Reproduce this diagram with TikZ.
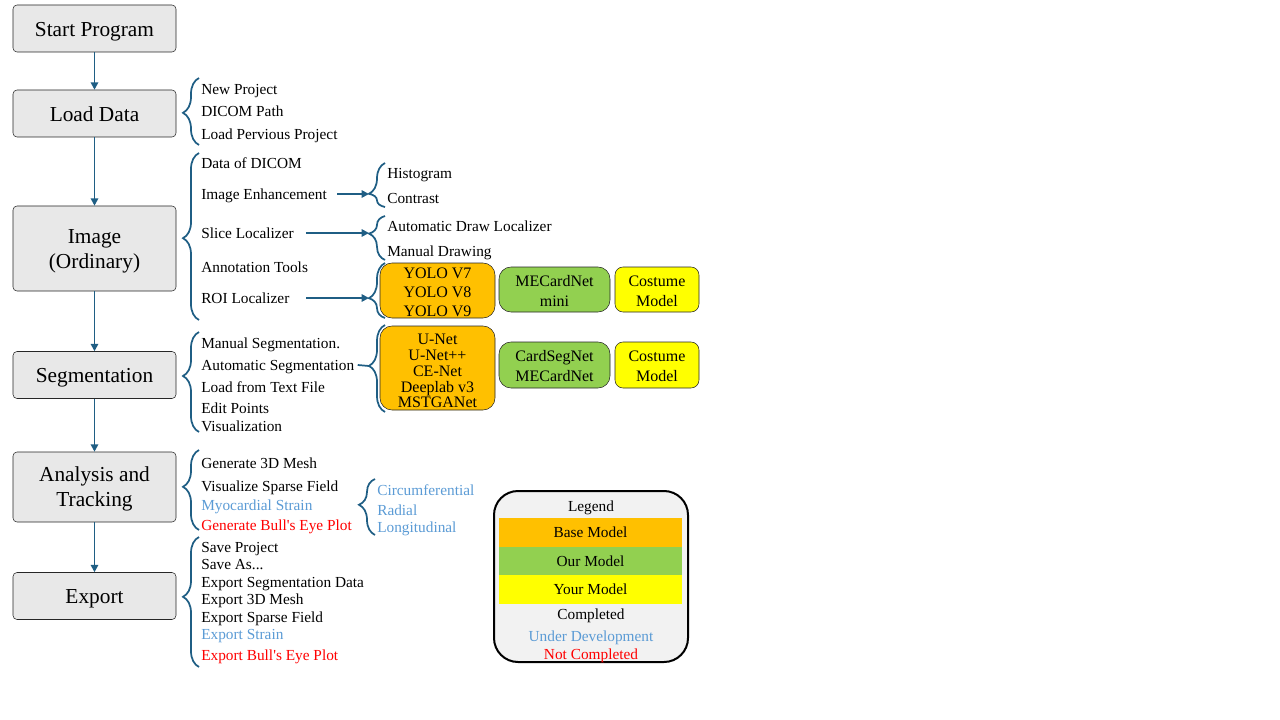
\documentclass[tikz,border=0pt]{standalone}
\usepackage{fontspec}
\setmainfont{Liberation Serif}
\usetikzlibrary{arrows.meta, positioning, decorations.pathreplacing}

\definecolor{flowblue}{RGB}{31,94,132}
\definecolor{boxgray}{RGB}{232,232,232}
\definecolor{basecol}{RGB}{255,192,0}
\definecolor{ourcol}{RGB}{146,208,80}
\definecolor{yourcol}{RGB}{255,255,0}
\definecolor{devblue}{RGB}{91,155,213}
\definecolor{legendgray}{RGB}{242,242,242}

\begin{document}
\begin{tikzpicture}[
    x=0.75pt, y=-0.75pt,
    stage/.style={rectangle, draw=black!85, fill=boxgray, rounded corners=3pt, minimum width=122.25pt, minimum height=35.25pt, align=center, font=\fontsize{16}{19}\selectfont, text height=15pt, text depth=3.46pt},
    item/.style={anchor=west, inner sep=0pt, text height=10.25pt, text depth=2.5pt, font=\fontsize{11.5}{13}\selectfont},
    model/.style={draw=black!85, rounded corners=9pt, align=center, inner sep=0pt, minimum width=83.25pt, minimum height=33.75pt, font=\fontsize{12}{15}\selectfont, text height=28pt, text depth=2.6pt},
    band/.style={minimum width=137.25pt, minimum height=21.75pt, inner sep=0pt, font=\fontsize{11.5}{13}\selectfont, text height=10.25pt, text depth=2.5pt},
    flow/.style={draw=flowblue, line width=1.35pt, -{Triangle[length=5.5pt, width=5.5pt]}},
    curly/.style={draw=flowblue, line width=1.3pt, decorate, decoration={brace, amplitude=12pt, aspect=#1}},
    curly/.default=0.5
]
    \useasboundingbox (0,0) rectangle (1280,720);

    % main stages
    \node[stage] (start) at (94.5,28.5) {Start Program};
    \node[stage] (load) at (94.5,113.5) {Load Data};
    \node[stage, minimum height=63.75pt, text height=33.3pt] (image) at (94.5,248.5) {Image\\(Ordinary)};
    \node[stage] (seg) at (94.5,375) {Segmentation};
    \node[stage, minimum height=52.5pt, text height=33.3pt] (track) at (94.5,487) {Analysis and\\Tracking};
    \node[stage] (export) at (94.5,596) {Export};

    \draw[flow] (start) -- (load);
    \draw[flow] (load) -- (image);
    \draw[flow] (image) -- (seg);
    \draw[flow] (seg) -- (track);
    \draw[flow] (track) -- (export);

    % load data
    \draw[curly=0.48] (199,145) -- (199,78);
    \node[item] (newproj) at (201,89) {New Project};
    \node[item] (dicompath) at (201,111) {DICOM Path};
    \node[item] (loadprev) at (201,134) {Load Pervious Project};

    % image
    \draw[curly=0.49] (199,320) -- (199,153);
    \node[item] (dicomdata) at (201,163) {Data of DICOM};
    \node[item] (enh) at (201,194) {Image Enhancement};
    \node[item] (slice) at (201,233) {Slice Localizer};
    \node[item] (annot) at (201,267) {Annotation Tools};
    \node[item] (roi) at (201,298) {ROI Localizer};

    \coordinate (hist-tip) at (369,194);
    \coordinate (slice-tip) at (369,233);
    \coordinate (roi-tip) at (369,298);
    \draw[curly=0.30] (385,207) -- (385,163);
    \draw[curly=0.60] (385,260) -- (385,216);
    \draw[curly=0.36] (385,318) -- (385,263);
    \draw[flow] ([xshift=7.5pt]enh.east) -- (hist-tip);
    \draw[flow] ([xshift=9pt]slice.east) -- (slice-tip);
    \draw[flow] ([xshift=12.5pt]roi.east) -- (roi-tip);

    \node[item] (hist) at (387,173) {Histogram};
    \node[item] (contrast) at (387,198) {Contrast};
    \node[item] (autodraw) at (387,226) {Automatic Draw Localizer};
    \node[item] (mandraw) at (387,251) {Manual Drawing};

    \node[model, fill=basecol, minimum width=86.25pt, minimum height=41.25pt, font=\fontsize{12}{14.25}\selectfont, text height=40pt, text depth=1.1pt] (yolo) at (437.5,290.5) {YOLO V7\\YOLO V8\\YOLO V9};
    \node[model, fill=ourcol] (mecmini) at (554.5,289.5) {MECardNet\\mini};
    \node[model, fill=yourcol, minimum width=63pt, rounded corners=6pt] (custroi) at (657,289.5) {Costume\\Model};

    % segmentation
    \draw[curly=0.56] (199,432) -- (199,332);
    \node[item] (manseg) at (201,343) {Manual Segmentation.};
    \node[item] (autoseg) at (201,365) {Automatic Segmentation};
    \node[item] (loadtxt) at (201,387) {Load from Text File};
    \node[item] (editpts) at (201,408) {Edit Points};
    \node[item] (visual) at (201,426) {Visualization};

    \coordinate (segsub-tip) at (369,366);
    \draw[curly=0.53] (385,412) -- (385,325);
    \draw[draw=flowblue, line width=1.3pt] ([xshift=2.5pt]autoseg.east) -- (segsub-tip);

    \node[model, fill=basecol, minimum width=86.25pt, minimum height=63pt, font=\fontsize{12}{11.8}\selectfont, text height=61.3pt, text depth=1.5pt] (segbase) at (437.5,368) {U-Net\\U-Net++\\CE-Net\\Deeplab v3\\MSTGANet};
    \node[model, fill=ourcol, minimum height=34.5pt] (cardseg) at (554.5,365) {CardSegNet\\MECardNet};
    \node[model, fill=yourcol, minimum width=63pt, minimum height=34.5pt, rounded corners=6pt] (custseg) at (657,365) {Costume\\Model};

    % analysis and tracking
    \draw[curly=0.54] (199,530) -- (199,450);
    \node[item] (mesh) at (201,463) {Generate 3D Mesh};
    \node[item] (sparse) at (201,486) {Visualize Sparse Field};
    \node[item, text=devblue] (strain) at (201,505) {Myocardial Strain};
    \node[item, text=red] (bullseye) at (201,525) {Generate Bull\textquotesingle s Eye Plot};

    \draw[curly=0.54] (375,535) -- (375,479);
    \node[item, text=devblue] (circ) at (377,490) {Circumferential};
    \node[item, text=devblue] (radial) at (377,510) {Radial};
    \node[item, text=devblue] (longi) at (377,527) {Longitudinal};

    % export
    \draw[curly=0.54] (199,667) -- (199,537);
    \node[item] (saveproj) at (201,547) {Save Project};
    \node[item] (saveas) at (201,564) {Save As...};
    \node[item] (expseg) at (201,582) {Export Segmentation Data};
    \node[item] (expmesh) at (201,599) {Export 3D Mesh};
    \node[item] (expsparse) at (201,617) {Export Sparse Field};
    \node[item, text=devblue] (expstrain) at (201,634) {Export Strain};
    \node[item, text=red] (expbull) at (201,655) {Export Bull\textquotesingle s Eye Plot};

    % legend
    \node[draw=black, line width=1.5pt, fill=legendgray, rounded corners=18pt, minimum width=145.5pt, minimum height=128.25pt] (legend) at (591,576.5) {};
    \node[band] (legtitle) at (591,506) {Legend};
    \node[band, fill=basecol] (legbase) at (590.5,532.5) {Base Model};
    \node[band, fill=ourcol] (legour) at (590.5,561) {Our Model};
    \node[band, fill=yourcol] (legyour) at (590.5,589.5) {Your Model};
    \node[band] (legdone) at (591,614) {Completed};
    \node[band, text=devblue] (legdev) at (591,636) {Under Development};
    \node[band, text=red] (legnot) at (591,654) {Not Completed};
\end{tikzpicture}
\end{document}
